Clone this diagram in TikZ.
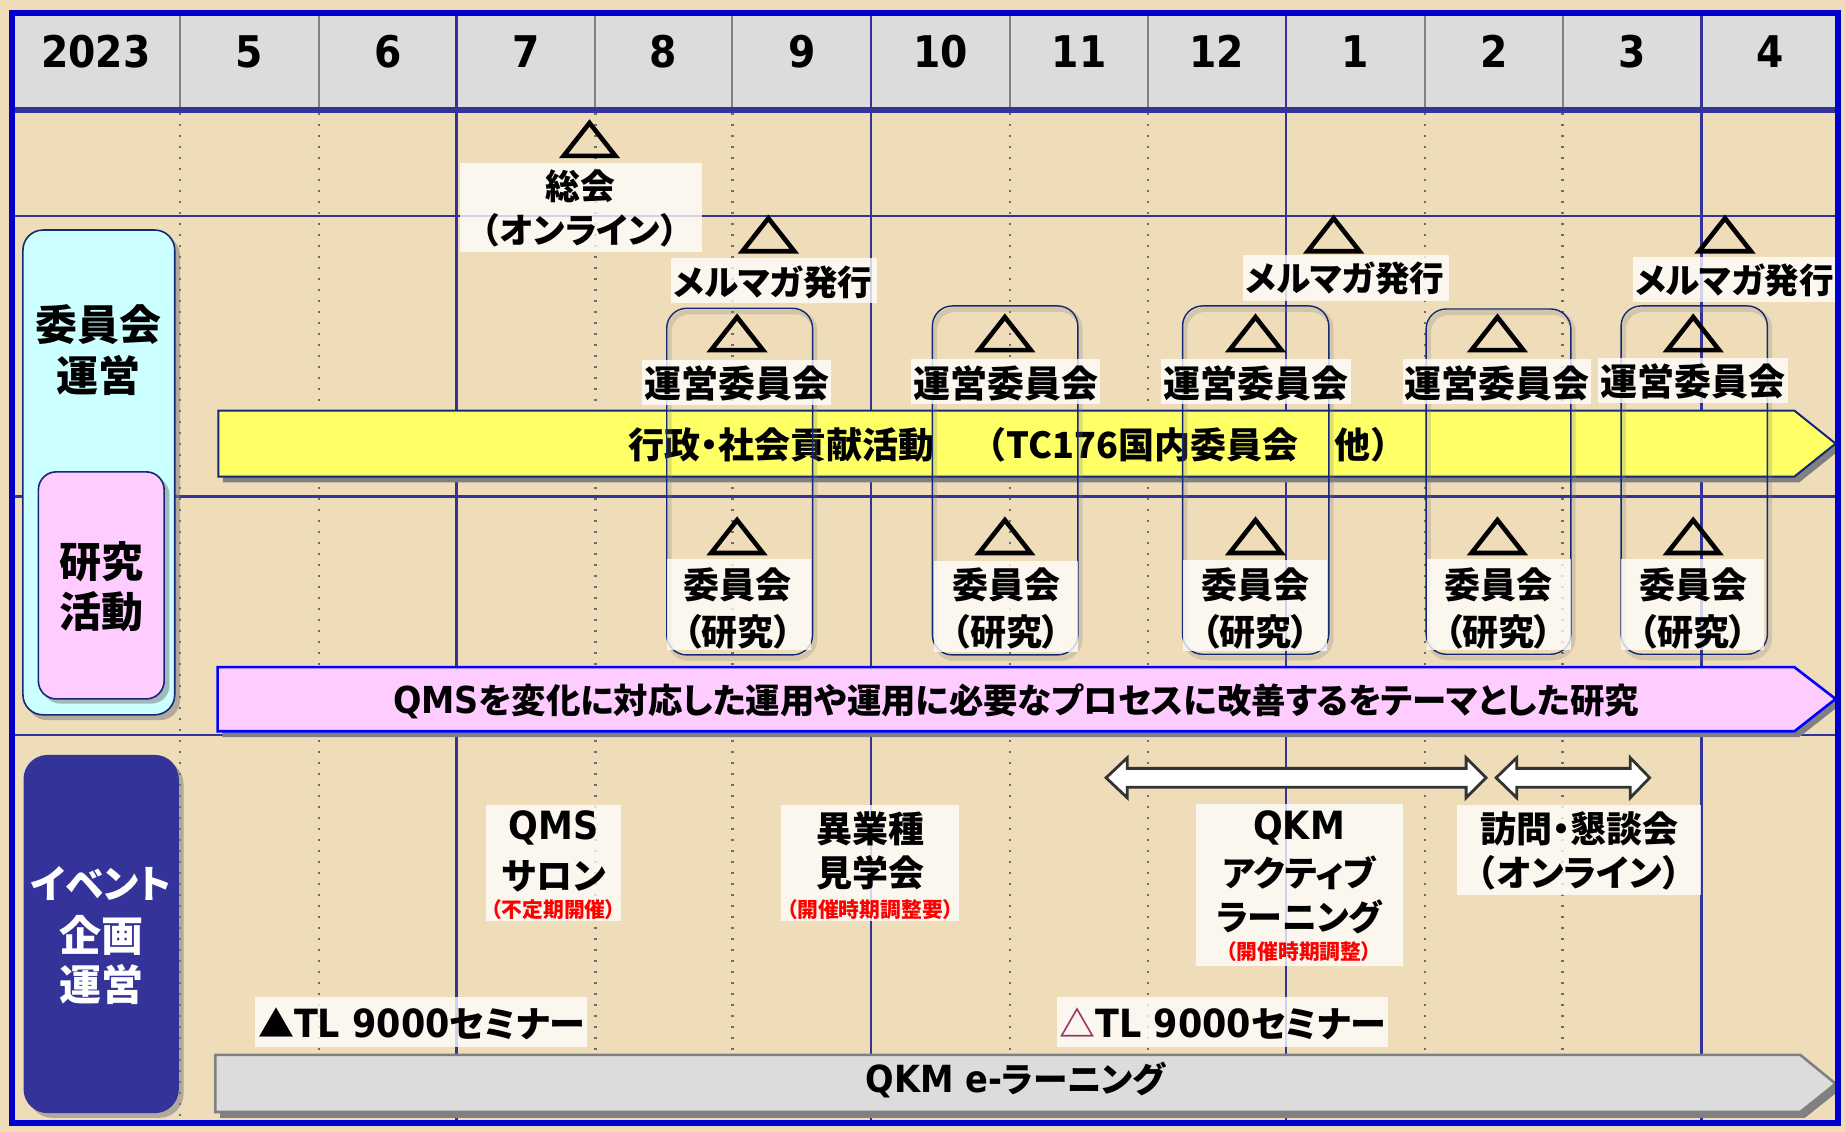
\documentclass[tikz,border=0pt]{standalone}
\usepackage{fontspec}
\setmainfont{Noto Sans CJK JP}[RawFeature=+palt]
\newfontfamily\fw{Noto Sans CJK JP}
\newfontfamily\lat{DejaVu Sans}[FakeStretch=0.9,Scale=1.08]
\usetikzlibrary{calc}
\definecolor{bgc}{RGB}{238,221,184}
\definecolor{hdr}{RGB}{220,220,220}
\definecolor{bord}{RGB}{0,0,204}
\definecolor{navy}{RGB}{51,51,153}
\definecolor{cyanb}{RGB}{204,255,255}
\definecolor{pinkb}{RGB}{255,204,255}
\definecolor{yel}{RGB}{255,255,102}
\definecolor{gryl}{RGB}{128,128,128}
\definecolor{grya}{RGB}{220,220,220}
\definecolor{redc}{RGB}{255,0,0}
\definecolor{rbx}{RGB}{20,40,120}
\definecolor{trip}{RGB}{153,51,102}
\newcommand\myfs[1]{\fontsize{#1}{#1}\selectfont}
\tikzset{
  hdtxt/.style={font=\lat\bfseries\myfs{20.2pt}, inner sep=0pt},
  lbltxt/.style={font=\bfseries\myfs{21pt}, inner sep=0pt},
  jtxt/.style={font=\bfseries\myfs{18pt}, inner sep=0pt},
  redtxt/.style={font=\bfseries\myfs{10.4pt}, text=redc, inner sep=0pt},
  tbox/.style={fill=white, fill opacity=0.78},
  tristyle/.style={draw=black, line width=2.3pt, line join=miter},
  rbox/.style={draw=rbx, line width=0.7pt, rounded corners=10pt},
  dotline/.style={draw=gryl!85!black, line width=1.3pt, dash pattern=on 1.2pt off 4.3pt},
  qline/.style={draw=navy, line width=1.1pt},
  shd/.style={fill=gryl},
  dblarrow/.style={fill=white, draw=black!80, line width=1.4pt, line join=miter}
}
\newcommand\mytri[2]{\draw[tristyle] (#1,#2) ++(0,-13) -- ++(22,28) -- ++(-44,0) -- cycle;}
\begin{document}
\begin{tikzpicture}[x=0.58833pt,y=-0.58833pt]
\useasboundingbox (0,0) rectangle (1568,962);
\fill[bgc] (0,0) rectangle (1568,962);
% header
\fill[hdr] (10,10.8) rectangle (1562,93.5);
\foreach \x in {153,271,506,622.5,858.5,975.5,1211,1328}{
  \draw[gryl, line width=1pt] (\x,10.8) -- (\x,93.5);
  \draw[dotline] (\x,96) -- (\x,955);
}
\foreach \x in {388,740.5,1093,1446}{\draw[qline] (\x,10.8) -- (\x,955);}
\foreach \y in {183.6,422,624.5}{\draw[qline] (10,\y) -- (1562,\y);}
\draw[navy, line width=3pt] (10,93.5) -- (1562,93.5);
% header texts
\node[hdtxt] (h0) at (81.5,44) {2023};
\node[hdtxt] (h5) at (212,44) {5};
\node[hdtxt] (h6) at (329.5,44) {6};
\node[hdtxt] (h7) at (447,44) {7};
\node[hdtxt] (h8) at (564,44) {8};
\node[hdtxt] (h9) at (681.5,44) {9};
\node[hdtxt] (h10) at (799.5,44) {10};
\node[hdtxt] (h11) at (917,44) {11};
\node[hdtxt] (h12) at (1034,44) {12};
\node[hdtxt] (h1) at (1152,44) {1};
\node[hdtxt] (h2) at (1269.5,44) {2};
\node[hdtxt] (h3) at (1387,44) {3};
\node[hdtxt] (h4) at (1504,44) {4};
% left label boxes
\fill[gryl, opacity=0.55, rounded corners=10pt] (23,200) rectangle (153,612);
\draw[draw=rbx, line width=0.8pt, fill=cyanb, rounded corners=10pt] (19.5,195.5) rectangle (148.5,607.5);
\fill[gryl, opacity=0.55, rounded corners=9pt] (36,405) rectangle (144,598);
\draw[draw=rbx, line width=0.8pt, fill=pinkb, rounded corners=9pt] (32.6,401) rectangle (139.5,594);
\fill[gryl, opacity=0.55, rounded corners=12pt] (24,646) rectangle (156,950);
\fill[navy, rounded corners=12pt] (20,641.6) rectangle (152,946);
\node[lbltxt] (l1a) at (84,276) {委員会};
\node[lbltxt] (l1b) at (84,319) {運営};
\node[lbltxt] (l2a) at (86,477) {研究};
\node[lbltxt] (l2b) at (86,520) {活動};
\node[lbltxt, text=white, font=\bfseries\myfs{19.4pt}] (l3a) at (86,751) {イベント};
\node[lbltxt, text=white] (l3b) at (86,795) {企画};
\node[lbltxt, text=white] (l3c) at (86,837) {運営};
% big arrows
\fill[shd, shift={(4,5)}] (185.5,349) -- (1525,349) -- (1560,377) -- (1525,405) -- (185.5,405) -- cycle;
\draw[fill=yel, draw=rbx, line width=1pt] (185.5,349) -- (1525,349) -- (1560,377) -- (1525,405) -- (185.5,405) -- cycle;
\fill[shd, shift={(4,5)}] (185,567) -- (1525,567) -- (1560,594) -- (1525,621.5) -- (185,621.5) -- cycle;
\draw[fill=pinkb, draw=blue, line width=1.3pt] (185,567) -- (1525,567) -- (1560,594) -- (1525,621.5) -- (185,621.5) -- cycle;
\fill[shd, shift={(4,5)}] (183,896.5) -- (1530,896.5) -- (1560,921) -- (1530,945) -- (183,945) -- cycle;
\draw[fill=grya, draw=gryl, line width=1.3pt] (183,896.5) -- (1530,896.5) -- (1560,921) -- (1530,945) -- (183,945) -- cycle;
\node[jtxt, font=\bfseries\myfs{18pt}] (ya) at (864.5,378) {行政・社会貢献活動　{\fw （}TC176国内委員会　他{\fw ）}};
\node[jtxt, font=\bfseries\myfs{17.2pt}] (pa) at (863.5,596) {{\lat QMS}を変化に対応した運用や運用に必要なプロセスに改善するをテーマとした研究};
\node[jtxt, font=\bfseries\myfs{17.3pt}] (ga) at (863,918) {{\lat QKM e-}ラーニング};
% rounded boxes
\foreach \a/\b/\c/\d in {566.6/262/690.6/556.6, 792.4/260/916/556.6, 1005/260/1129.3/556, 1212/262.6/1335/556, 1377.7/260/1502/556}{
  \draw[gryl, opacity=0.25, line width=2.5pt, rounded corners=10pt] (\a+2,\b+3) rectangle (\c+2,\d+3);
  \draw[rbox] (\a,\b) rectangle (\c,\d);
}
% text boxes
\fill[tbox] (391,138.5) rectangle (597,214);
\fill[tbox] (570,219) rectangle (745,257.6);
\fill[tbox] (1056.6,216.7) rectangle (1231.6,255.5);
\fill[tbox] (1387.4,218.6) rectangle (1561,257);
\fill[tbox] (546,306) rectangle (706.6,344);
\fill[tbox] (774.6,305.4) rectangle (935.2,343.6);
\fill[tbox] (986.7,305.4) rectangle (1148,343.6);
\fill[tbox] (1192,305) rectangle (1352.5,343);
\fill[tbox] (1358,304) rectangle (1519.5,342.7);
\fill[tbox] (567,475) rectangle (689,552);
\fill[tbox] (793.8,476.5) rectangle (916,553.8);
\fill[tbox] (1005,476) rectangle (1128,553);
\fill[tbox] (1212.7,475) rectangle (1334.8,552);
\fill[tbox] (1377.7,475) rectangle (1499,552);
\fill[tbox] (413,684) rectangle (528,783);
\fill[tbox] (664,684) rectangle (815,783);
\fill[tbox] (1016.8,683) rectangle (1192,821);
\fill[tbox] (1238.6,684) rectangle (1446,761);
\fill[tbox] (217,847) rectangle (499,890);
\fill[tbox] (898,847) rectangle (1180,890);
% triangles
\mytri{501}{117.5}
\mytri{653}{198.5}
\mytri{1133.4}{198.5}
\mytri{1466}{198.5}
\foreach \x in {626.4,854,1067,1272.6,1439}{\mytri{\x}{282.5}\mytri{\x}{455}}
% texts
\node[jtxt, font=\bfseries\myfs{17.4pt}] (sk1) at (493,158) {総会};
\node[jtxt, font=\bfseries\myfs{17.4pt}] (sk2) at (493,196) {{\fw （}オンライン{\fw ）}};
\node[jtxt, font=\bfseries\myfs{17.3pt}] (m1) at (657,240) {メルマガ発行};
\node[jtxt, font=\bfseries\myfs{17.3pt}] (m2) at (1143,237) {メルマガ発行};
\node[jtxt, font=\bfseries\myfs{17.3pt}] (m3) at (1474,238) {メルマガ発行};
\node[jtxt, font=\bfseries\myfs{18.5pt}] (u1) at (626,326) {運営委員会};
\node[jtxt, font=\bfseries\myfs{18.5pt}] (u2) at (855,326) {運営委員会};
\node[jtxt, font=\bfseries\myfs{18.5pt}] (u3) at (1067,326) {運営委員会};
\node[jtxt, font=\bfseries\myfs{18.5pt}] (u4) at (1272,326) {運営委員会};
\node[jtxt, font=\bfseries\myfs{18.5pt}] (u5) at (1439,324) {運営委員会};
\foreach \x/\n in {627/1,855/2,1067/3,1273.5/4,1439/5}{
  \node[jtxt] (ka\n) at (\x,497) {委員会};
  \node[jtxt] (kb\n) at (\x,537) {（研究）};
}
\node[jtxt] (q1) at (470.5,704) {\lat QMS};
\node[jtxt] (q2) at (470.5,745) {サロン};
\node[redtxt] (q3) at (470.5,773) {（不定期開催）};
\node[jtxt] (i1) at (739.5,704) {異業種};
\node[jtxt] (i2) at (739.5,742) {見学会};
\node[redtxt] (i3) at (739.5,773) {（開催時期調整要）};
\node[jtxt] (a1) at (1104,704) {\lat QKM};
\node[jtxt, font=\bfseries\myfs{17.5pt}] (a2) at (1104,742) {アクティブ};
\node[jtxt, font=\bfseries\myfs{17.5pt}] (a3) at (1104,779) {ラーニング};
\node[redtxt] (a4) at (1104,809) {（開催時期調整）};
\node[jtxt] (v1) at (1342,704) {訪問・懇談会};
\node[jtxt] (v2) at (1342,742) {{\fw （}オンライン{\fw ）}};
\node[jtxt] (t1) at (358,870) {▲{\lat TL 9000}セミナー};
\node[jtxt] (t2) at (1039,870) {\textcolor{trip}{△}{\lat TL 9000}セミナー};
% double arrows
\draw[dblarrow] (940,661) -- (958,644) -- (958,653) -- (1246,653) -- (1246,644) -- (1263,661) -- (1246,678) -- (1246,669) -- (958,669) -- (958,678) -- cycle;
\draw[dblarrow] (1271.5,661) -- (1289,644) -- (1289,653) -- (1385.5,653) -- (1385.5,644) -- (1402,661) -- (1385.5,678) -- (1385.5,669) -- (1289,669) -- (1289,678) -- cycle;
% outer border
\draw[bord, line width=3pt] (10,10.8) rectangle (1562,954.6);
\end{tikzpicture}
\end{document}
